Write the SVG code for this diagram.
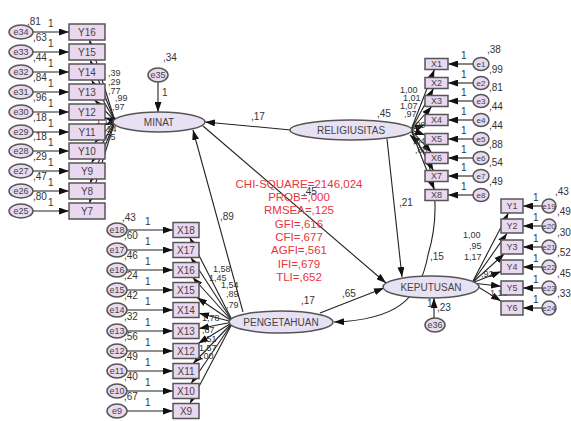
<svg xmlns="http://www.w3.org/2000/svg" width="571" height="421" viewBox="0 0 571 421">
<defs>
<marker id="ah" markerWidth="10" markerHeight="7" refX="10" refY="3.5" orient="auto-start-reverse" markerUnits="userSpaceOnUse"><path d="M0,0 L10,3.5 L0,7 z" fill="#111"/></marker>
<style>
.c{stroke:#222;stroke-width:1.1;fill:none;marker-end:url(#ah)}
.cov{stroke:#222;stroke-width:1.1;fill:none;marker-end:url(#ah);marker-start:url(#ah)}
.box{fill:#ead8f0;stroke:#555;stroke-width:1.5}
.lat{fill:#e8e0f3;stroke:#555;stroke-width:1.5}
.err{fill:#e9daf0;stroke:#555;stroke-width:1.5}
text{font-family:"Liberation Sans",Arial,sans-serif}
.t{font-size:10px;fill:#444;text-anchor:middle}
.ts{font-size:9px;fill:#444;text-anchor:middle}
.te{font-size:8px;fill:#444;text-anchor:middle}
.l{font-size:10px;fill:#333}
.s{font-size:9px}
.fit{font-size:11.5px;fill:#ea3340;text-anchor:middle}
</style>
</defs>
<rect width="571" height="421" fill="#fff"/>
<g id="connectors">
<path class="c" d="M33,32H69"/><path class="c" d="M33,52H69"/><path class="c" d="M33,72H69"/><path class="c" d="M33,92H69"/><path class="c" d="M33,112H69"/><path class="c" d="M33,132H69"/><path class="c" d="M33,151H69"/><path class="c" d="M33,171H69"/><path class="c" d="M33,191H69"/><path class="c" d="M33,211H69"/>
<path class="c" d="M115,121L89.5,40"/><path class="c" d="M115,121L90.2,60"/><path class="c" d="M115,121L91.6,80"/><path class="c" d="M115,121L94.7,100"/><path class="c" d="M115,121L105,117.8"/><path class="c" d="M115,121L105,124.9"/><path class="c" d="M115,121L94.5,143"/><path class="c" d="M115,121L91.5,163"/><path class="c" d="M115,121L90.2,183"/><path class="c" d="M115,121L89.5,203"/>
<path class="c" d="M158,82L158,112"/>
<path class="c" d="M291,130L205,122"/>
<path class="c" d="M203,126L386,283"/>
<path class="c" d="M243,312L193,130"/>
<path class="c" d="M387,139L402,277"/>
<path class="c" d="M320,313L384,288"/>
<path class="cov" d="M410,135C438,160 440,215 428,255C420,300 395,320 334,322"/>
<path class="c" d="M434,318L434,298"/>
<path class="c" d="M473,64H448"/><path class="c" d="M473,83H448"/><path class="c" d="M473,101H448"/><path class="c" d="M473,120H448"/><path class="c" d="M473,139H448"/><path class="c" d="M473,158H448"/><path class="c" d="M473,176H448"/><path class="c" d="M473,195H448"/>
<path class="c" d="M411,130L434.4,69.5"/><path class="c" d="M411,130L433.5,88.5"/><path class="c" d="M411,130L431.7,106.5"/><path class="c" d="M411,130L425,124.5"/><path class="c" d="M411,130L425,134.9"/><path class="c" d="M411,130L431.5,152.5"/><path class="c" d="M411,130L433.4,170.5"/><path class="c" d="M411,130L434.3,189.5"/>
<path class="c" d="M472,283L508.4,213"/><path class="c" d="M472,283L507,233.4"/><path class="c" d="M472,283L504.3,253.8"/><path class="c" d="M472,283L501,271.5"/><path class="c" d="M472,283L501,286.3"/><path class="c" d="M472,283L501,301.1"/>
<path class="c" d="M542,206H523"/><path class="c" d="M542,226H523"/><path class="c" d="M542,247H523"/><path class="c" d="M542,267H523"/><path class="c" d="M542,288H523"/><path class="c" d="M542,308H523"/>
<path class="c" d="M233,322L189.8,237.5"/><path class="c" d="M233,322L190.9,257.5"/><path class="c" d="M233,322L192.8,277.5"/><path class="c" d="M233,322L197,297.5"/><path class="c" d="M233,322L199,313.3"/><path class="c" d="M233,322L199,328.5"/><path class="c" d="M233,322L198.2,343.5"/><path class="c" d="M233,322L193.2,363.5"/><path class="c" d="M233,322L191.1,383.5"/><path class="c" d="M233,322L190,403.5"/>
<path class="c" d="M127,230H173"/><path class="c" d="M127,250H173"/><path class="c" d="M127,270H173"/><path class="c" d="M127,290H173"/><path class="c" d="M127,310H173"/><path class="c" d="M127,331H173"/><path class="c" d="M127,351H173"/><path class="c" d="M127,371H173"/><path class="c" d="M127,391H173"/><path class="c" d="M127,411H173"/>
<g class="l">
<text x="48" y="27">1</text><text x="48" y="47">1</text><text x="48" y="67">1</text><text x="48" y="87">1</text><text x="48" y="107">1</text><text x="48" y="127">1</text><text x="48" y="146">1</text><text x="48" y="166">1</text><text x="48" y="186">1</text><text x="48" y="206">1</text>
<g class="s"><text x="108" y="76">,39</text><text x="108" y="85">,29</text><text x="108" y="94">,77</text><text x="115" y="101">,99</text><text x="112" y="110">,97</text><text x="96" y="124">1,12</text><text x="99" y="132">1,14</text><text x="98" y="140">1,05</text></g>
<text x="162" y="96">1</text>
<text x="251" y="120">,17</text>
<text x="303" y="195">,45</text>
<text x="220" y="220">,89</text>
<text x="399" y="206">,21</text>
<text x="342" y="297">,65</text>
<text x="430" y="260">,15</text>
<text x="427" y="307">1</text>
<text x="461" y="59">1</text><text x="461" y="78">1</text><text x="461" y="96">1</text><text x="461" y="115">1</text><text x="461" y="134">1</text><text x="461" y="153">1</text><text x="461" y="171">1</text><text x="461" y="190">1</text>
<g class="s"><text x="400" y="93">1,00</text><text x="403" y="101">1,01</text><text x="400" y="109">1,07</text><text x="404" y="117">,97</text><text x="413" y="128">,99</text><text x="413" y="144">,84</text><text x="415" y="153">,88</text></g>
<g class="s"><text x="463" y="238">1,00</text><text x="469" y="249">,95</text><text x="464" y="260">1,17</text><text x="481" y="277">,92</text><text x="490" y="296">1,18</text></g>
<text x="533" y="201">1</text><text x="533" y="221">1</text><text x="533" y="242">1</text><text x="533" y="262">1</text><text x="533" y="283">1</text><text x="533" y="303">1</text>
<g class="s"><text x="213" y="272">1,58</text><text x="209" y="281">1,45</text><text x="221" y="288">1,54</text><text x="226" y="297">,89</text><text x="226" y="308">,79</text><text x="202" y="321">1,78</text><text x="202" y="333">,87</text><text x="204" y="342">,51</text><text x="199" y="351">1,57</text><text x="196" y="359">1,00</text></g>
<text x="145" y="225">1</text><text x="145" y="245">1</text><text x="145" y="265">1</text><text x="145" y="285">1</text><text x="145" y="305">1</text><text x="145" y="326">1</text><text x="145" y="346">1</text><text x="145" y="366">1</text><text x="145" y="386">1</text><text x="145" y="406">1</text>
</g>
</g>
<g id="Y16"><rect class="box" x="69" y="24" width="36" height="16"/><text class="t" x="87" y="35.5">Y16</text></g>
<g id="Y15"><rect class="box" x="69" y="44" width="36" height="16"/><text class="t" x="87" y="55.5">Y15</text></g>
<g id="Y14"><rect class="box" x="69" y="64" width="36" height="16"/><text class="t" x="87" y="75.5">Y14</text></g>
<g id="Y13"><rect class="box" x="69" y="84" width="36" height="16"/><text class="t" x="87" y="95.5">Y13</text></g>
<g id="Y12"><rect class="box" x="69" y="104" width="36" height="16"/><text class="t" x="87" y="115.5">Y12</text></g>
<g id="Y11"><rect class="box" x="69" y="124" width="36" height="16"/><text class="t" x="87" y="135.5">Y11</text></g>
<g id="Y10"><rect class="box" x="69" y="143" width="36" height="16"/><text class="t" x="87" y="154.5">Y10</text></g>
<g id="Y9"><rect class="box" x="69" y="163" width="36" height="16"/><text class="t" x="87" y="174.5">Y9</text></g>
<g id="Y8"><rect class="box" x="69" y="183" width="36" height="16"/><text class="t" x="87" y="194.5">Y8</text></g>
<g id="Y7"><rect class="box" x="69" y="203" width="36" height="16"/><text class="t" x="87" y="214.5">Y7</text></g>
<g id="e34"><ellipse class="err" cx="21" cy="32" rx="12" ry="7"/><text class="ts" x="21" y="35">e34</text><text class="l" x="27" y="25">,81</text></g>
<g id="e33"><ellipse class="err" cx="21" cy="52" rx="12" ry="7"/><text class="ts" x="21" y="55">e33</text><text class="l" x="33" y="41">,63</text></g>
<g id="e32"><ellipse class="err" cx="21" cy="72" rx="12" ry="7"/><text class="ts" x="21" y="75">e32</text><text class="l" x="33" y="61">,44</text></g>
<g id="e31"><ellipse class="err" cx="21" cy="92" rx="12" ry="7"/><text class="ts" x="21" y="95">e31</text><text class="l" x="33" y="81">,84</text></g>
<g id="e30"><ellipse class="err" cx="21" cy="112" rx="12" ry="7"/><text class="ts" x="21" y="115">e30</text><text class="l" x="33" y="101">,96</text></g>
<g id="e29"><ellipse class="err" cx="21" cy="132" rx="12" ry="7"/><text class="ts" x="21" y="135">e29</text><text class="l" x="33" y="121">,18</text></g>
<g id="e28"><ellipse class="err" cx="21" cy="151" rx="12" ry="7"/><text class="ts" x="21" y="154">e28</text><text class="l" x="33" y="140">,18</text></g>
<g id="e27"><ellipse class="err" cx="21" cy="171" rx="12" ry="7"/><text class="ts" x="21" y="174">e27</text><text class="l" x="33" y="160">,29</text></g>
<g id="e26"><ellipse class="err" cx="21" cy="191" rx="12" ry="7"/><text class="ts" x="21" y="194">e26</text><text class="l" x="33" y="180">,47</text></g>
<g id="e25"><ellipse class="err" cx="21" cy="211" rx="12" ry="7"/><text class="ts" x="21" y="214">e25</text><text class="l" x="33" y="200">,80</text></g>
<g id="MINAT"><ellipse class="lat" cx="159" cy="122" rx="46" ry="10"/><text class="t" x="159" y="125.5">MINAT</text></g>
<g id="e35"><ellipse class="err" cx="158" cy="75" rx="10" ry="7"/><text class="ts" x="158" y="78">e35</text><text class="l" x="163" y="61">,34</text></g>
<g id="RELIGIUSITAS"><ellipse class="lat" cx="351" cy="130" rx="61" ry="10"/><text class="t" x="351" y="133.5">RELIGIUSITAS</text><text class="l" x="377" y="117">,45</text></g>
<g id="PENGETAHUAN"><ellipse class="lat" cx="281" cy="322" rx="52" ry="11"/><text class="t" x="281" y="325.5">PENGETAHUAN</text><text class="l" x="301" y="304">,17</text></g>
<g id="KEPUTUSAN"><ellipse class="lat" cx="431" cy="287" rx="48" ry="11"/><text class="t" x="431" y="290.5">KEPUTUSAN</text></g>
<g id="e36"><ellipse class="err" cx="435" cy="325" rx="10" ry="7"/><text class="ts" x="435" y="328">e36</text><text class="l" x="437" y="311">,23</text></g>
<g id="X1"><rect class="box" x="425" y="58.5" width="23" height="11"/><text class="ts" x="436.5" y="67.2">X1</text></g>
<g id="X2"><rect class="box" x="425" y="77.5" width="23" height="11"/><text class="ts" x="436.5" y="86.2">X2</text></g>
<g id="X3"><rect class="box" x="425" y="95.5" width="23" height="11"/><text class="ts" x="436.5" y="104.2">X3</text></g>
<g id="X4"><rect class="box" x="425" y="114.5" width="23" height="11"/><text class="ts" x="436.5" y="123.2">X4</text></g>
<g id="X5"><rect class="box" x="425" y="133.5" width="23" height="11"/><text class="ts" x="436.5" y="142.2">X5</text></g>
<g id="X6"><rect class="box" x="425" y="152.5" width="23" height="11"/><text class="ts" x="436.5" y="161.2">X6</text></g>
<g id="X7"><rect class="box" x="425" y="170.5" width="23" height="11"/><text class="ts" x="436.5" y="179.2">X7</text></g>
<g id="X8"><rect class="box" x="425" y="189.5" width="23" height="11"/><text class="ts" x="436.5" y="198.2">X8</text></g>
<g id="e1"><ellipse class="err" cx="481" cy="64" rx="8" ry="6.5"/><text class="te" x="481" y="67">e1</text><text class="l" x="487" y="53">,38</text></g>
<g id="e2"><ellipse class="err" cx="481" cy="83" rx="8" ry="6.5"/><text class="te" x="481" y="86">e2</text><text class="l" x="489" y="73">,99</text></g>
<g id="e3"><ellipse class="err" cx="481" cy="101" rx="8" ry="6.5"/><text class="te" x="481" y="104">e3</text><text class="l" x="489" y="91">,81</text></g>
<g id="e4"><ellipse class="err" cx="481" cy="120" rx="8" ry="6.5"/><text class="te" x="481" y="123">e4</text><text class="l" x="489" y="110">,44</text></g>
<g id="e5"><ellipse class="err" cx="481" cy="139" rx="8" ry="6.5"/><text class="te" x="481" y="142">e5</text><text class="l" x="489" y="129">,44</text></g>
<g id="e6"><ellipse class="err" cx="481" cy="158" rx="8" ry="6.5"/><text class="te" x="481" y="161">e6</text><text class="l" x="489" y="148">,88</text></g>
<g id="e7"><ellipse class="err" cx="481" cy="176" rx="8" ry="6.5"/><text class="te" x="481" y="179">e7</text><text class="l" x="489" y="166">,54</text></g>
<g id="e8"><ellipse class="err" cx="481" cy="195" rx="8" ry="6.5"/><text class="te" x="481" y="198">e8</text><text class="l" x="489" y="185">,49</text></g>
<g id="Y1"><rect class="box" x="501" y="199" width="22" height="14"/><text class="ts" x="512" y="209.3">Y1</text></g>
<g id="Y2"><rect class="box" x="501" y="219" width="22" height="14"/><text class="ts" x="512" y="229.3">Y2</text></g>
<g id="Y3"><rect class="box" x="501" y="240" width="22" height="14"/><text class="ts" x="512" y="250.3">Y3</text></g>
<g id="Y4"><rect class="box" x="501" y="260" width="22" height="14"/><text class="ts" x="512" y="270.3">Y4</text></g>
<g id="Y5"><rect class="box" x="501" y="281" width="22" height="14"/><text class="ts" x="512" y="291.3">Y5</text></g>
<g id="Y6"><rect class="box" x="501" y="301" width="22" height="14"/><text class="ts" x="512" y="311.3">Y6</text></g>
<g id="e19"><ellipse class="err" cx="549" cy="206" rx="7" ry="7"/><text class="te" x="549" y="209">e19</text><text class="l" x="555" y="195">,43</text></g>
<g id="e20"><ellipse class="err" cx="549" cy="226" rx="7" ry="7"/><text class="te" x="549" y="229">e20</text><text class="l" x="557" y="215">,49</text></g>
<g id="e21"><ellipse class="err" cx="549" cy="247" rx="7" ry="7"/><text class="te" x="549" y="250">e21</text><text class="l" x="557" y="236">,30</text></g>
<g id="e22"><ellipse class="err" cx="549" cy="267" rx="7" ry="7"/><text class="te" x="549" y="270">e22</text><text class="l" x="557" y="256">,52</text></g>
<g id="e23"><ellipse class="err" cx="549" cy="288" rx="7" ry="7"/><text class="te" x="549" y="291">e23</text><text class="l" x="557" y="277">,45</text></g>
<g id="e24"><ellipse class="err" cx="549" cy="308" rx="7" ry="7"/><text class="te" x="549" y="311">e24</text><text class="l" x="557" y="297">,33</text></g>
<g id="X18"><rect class="box" x="173" y="222.5" width="26" height="15"/><text class="t" x="186" y="233.5">X18</text></g>
<g id="X17"><rect class="box" x="173" y="242.5" width="26" height="15"/><text class="t" x="186" y="253.5">X17</text></g>
<g id="X16"><rect class="box" x="173" y="262.5" width="26" height="15"/><text class="t" x="186" y="273.5">X16</text></g>
<g id="X15"><rect class="box" x="173" y="282.5" width="26" height="15"/><text class="t" x="186" y="293.5">X15</text></g>
<g id="X14"><rect class="box" x="173" y="302.5" width="26" height="15"/><text class="t" x="186" y="313.5">X14</text></g>
<g id="X13"><rect class="box" x="173" y="323.5" width="26" height="15"/><text class="t" x="186" y="334.5">X13</text></g>
<g id="X12"><rect class="box" x="173" y="343.5" width="26" height="15"/><text class="t" x="186" y="354.5">X12</text></g>
<g id="X11"><rect class="box" x="173" y="363.5" width="26" height="15"/><text class="t" x="186" y="374.5">X11</text></g>
<g id="X10"><rect class="box" x="173" y="383.5" width="26" height="15"/><text class="t" x="186" y="394.5">X10</text></g>
<g id="X9"><rect class="box" x="173" y="403.5" width="26" height="15"/><text class="t" x="186" y="414.5">X9</text></g>
<g id="e18"><ellipse class="err" cx="117" cy="230" rx="10" ry="7"/><text class="ts" x="117" y="233">e18</text><text class="l" x="122" y="221">,43</text></g>
<g id="e17"><ellipse class="err" cx="117" cy="250" rx="10" ry="7"/><text class="ts" x="117" y="253">e17</text><text class="l" x="124" y="239">,60</text></g>
<g id="e16"><ellipse class="err" cx="117" cy="270" rx="10" ry="7"/><text class="ts" x="117" y="273">e16</text><text class="l" x="124" y="259">,46</text></g>
<g id="e15"><ellipse class="err" cx="117" cy="290" rx="10" ry="7"/><text class="ts" x="117" y="293">e15</text><text class="l" x="124" y="279">,24</text></g>
<g id="e14"><ellipse class="err" cx="117" cy="310" rx="10" ry="7"/><text class="ts" x="117" y="313">e14</text><text class="l" x="124" y="299">,42</text></g>
<g id="e13"><ellipse class="err" cx="117" cy="331" rx="10" ry="7"/><text class="ts" x="117" y="334">e13</text><text class="l" x="124" y="320">,32</text></g>
<g id="e12"><ellipse class="err" cx="117" cy="351" rx="10" ry="7"/><text class="ts" x="117" y="354">e12</text><text class="l" x="124" y="340">,56</text></g>
<g id="e11"><ellipse class="err" cx="117" cy="371" rx="10" ry="7"/><text class="ts" x="117" y="374">e11</text><text class="l" x="124" y="360">,49</text></g>
<g id="e10"><ellipse class="err" cx="117" cy="391" rx="10" ry="7"/><text class="ts" x="117" y="394">e10</text><text class="l" x="124" y="380">,40</text></g>
<g id="e9"><ellipse class="err" cx="117" cy="411" rx="10" ry="7"/><text class="ts" x="117" y="414">e9</text><text class="l" x="124" y="400">,67</text></g>
<g id="fit">
<text class="fit" x="299" y="187.5">CHI-SQUARE=2146,024</text>
<text class="fit" x="299" y="201">PROB=,000</text>
<text class="fit" x="299" y="214.3">RMSEA=,125</text>
<text class="fit" x="299" y="227.7">GFI=,616</text>
<text class="fit" x="299" y="241">CFI=,677</text>
<text class="fit" x="299" y="254.4">AGFI=,561</text>
<text class="fit" x="299" y="267.8">IFI=,679</text>
<text class="fit" x="299" y="281">TLI=,652</text>
</g>
</svg>
